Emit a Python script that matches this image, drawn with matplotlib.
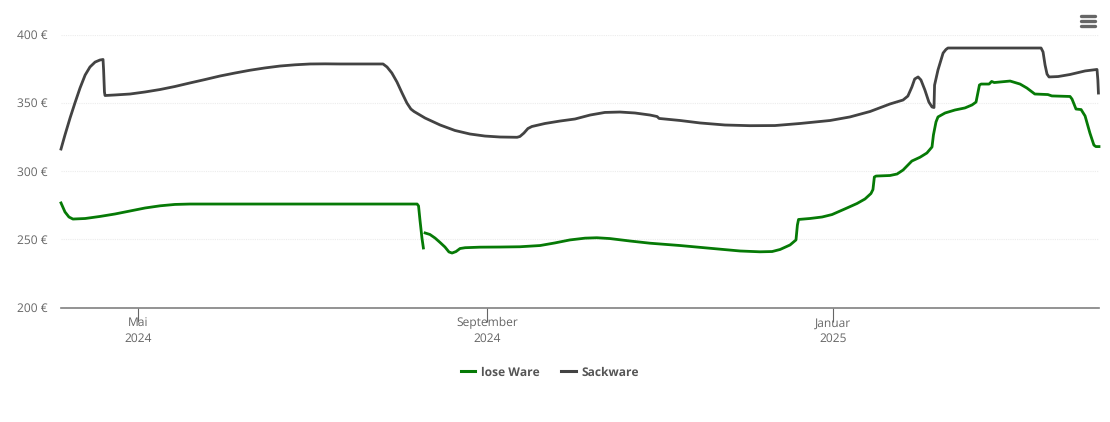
import matplotlib
matplotlib.use("Agg")
import matplotlib.pyplot as plt
from matplotlib.lines import Line2D
import pandas as pd

start = "2024-04-04"
lose_days_a = [0,1.4,2.8,4.2,8.5,13.7,19,24.3,29.6,34.9,40.1,45.4,125.4,125.9,126.4,127.1,127.6]
lose_vals_a = [276.6,270,266.3,264.8,265.2,266.7,268.5,270.7,272.9,274.5,275.5,275.8,275.8,274.4,264.1,250.9,243.6]
lose_days_b = [128.2,129.9,131.7,133.5,135.2,136.6,137.7,139.1,140.5,142.3,147.5,154.6,161.6,168.7,173.9,179.2,184.5,188.7,193.3,200.4,207.4,218,228.5,239.1,246.1,250.4,253.2,256.7,258.8,259.3,259.7,263.7,268,271.5,276,280.3,283.1,285.2,285.9,286.4,287,291.9,294.4,296.5,299.6,302.5,304.9,306.7,307.2,308.1,308.8,311.3,314.8,318.3,320.8,322.2,322.7,323.4,324,326.8,327.7,328.6,330.6,334.2,337.7,340.1,342.9,347.5,348.9,355.3,356,357.4,359.2,360.6,362.3,363.7,364.4,365.5]
lose_vals_b = [254.6,253.5,250.9,247.6,244.3,240.7,239.9,241,243.2,243.8,244.2,244.3,244.5,245.4,247.3,249.5,250.8,251.1,250.5,248.7,247.1,245.4,243.4,241.4,240.8,241,242.5,245.8,249.5,260.4,264.5,265.2,266.3,268.1,272.2,276.2,279.5,283.5,286.4,295.6,296.3,296.7,297.8,300.7,307.3,310.1,313.2,317.6,326.4,335.9,339.6,342.5,344.7,346.2,348.4,350.5,355.7,363,363.7,363.7,365.6,364.8,365.2,365.9,363.7,360.8,356.4,356,355,354.6,352.7,345.4,345,340.3,327.8,319,317.9,317.9]
sack_days = [0,1.4,3.2,4.9,6.7,8.5,10.2,12,13.7,14.8,15,15.3,15.5,19,24.3,29.6,34.9,40.1,45.4,50.7,56,61.3,66.5,71.8,77.1,82.4,87.7,93,98.2,113.4,114.8,116.5,118.3,120.1,121.8,123.2,124.3,128.2,133.5,138.7,144,149.3,154.6,160.6,161.6,163,164.4,165.8,170.4,175.7,181,186.3,191.5,196.8,202.1,207.4,209.9,210.6,218,225,233.8,242.6,251.4,260.2,270.8,277.8,284.9,291.9,296.5,298.2,299.6,300.6,301.8,302.8,304.2,305.6,306.7,307.4,307.6,308.8,310.6,311.6,312.3,345.1,345.8,346.5,347.2,347.9,351.1,355.3,360.6,364.8,365.1,365.3]
sack_vals = [316.1,326.4,338.9,349.8,360.8,370.3,376.2,379.8,381.3,381.7,374,357.9,355.3,355.7,356.4,357.9,359.7,361.9,364.5,367,369.6,371.8,373.8,375.5,376.9,377.8,378.4,378.5,378.4,378.4,376.2,371.8,365.2,357.1,349.8,345.4,343.6,338.8,333.7,329.7,327.1,325.6,324.9,324.7,325.3,327.8,331.1,332.6,334.8,336.6,338.1,341,342.9,343.2,342.5,341,339.9,338.5,337,335.2,333.7,333.2,333.3,334.8,337,339.6,343.6,349.1,352,354.9,361.5,367.4,368.9,366.7,359.3,350.5,346.9,346.5,362.9,374,386.4,389,390.1,390.1,387.2,377.7,371,368.9,369.2,370.7,373.3,374.4,366.7,357.1]
y_ticks = [200,250,300,350,400]
x_ticks = ["2024-05-01","2024-09-01","2025-01-01"]
x_labels = ["Mai\n2024","September\n2024","Januar\n2025"]
series_names = ["lose Ware","Sackware"]
GREEN = "#067a06"
DARK = "#434343"

def to_dates(days):
    return pd.Timestamp(start) + pd.to_timedelta(days, unit="D")

plt.rcParams['font.family'] = ['Open Sans','DejaVu Sans']
plt.rcParams['text.hinting'] = 'no_hinting'
plt.rcParams['text.hinting_factor'] = 1
W, H = 1110, 422
fig = plt.figure(figsize=(W/100, H/100), dpi=100)
ax = fig.add_axes([61/W, 1-307.5/H, (1099-61)/W, (307.5-34.5)/H])

ax.plot(to_dates(lose_days_a), lose_vals_a, color=GREEN, lw=2.0, solid_joinstyle="round", clip_on=False)
ax.plot(to_dates(lose_days_b), lose_vals_b, color=GREEN, lw=2.0, solid_joinstyle="round", clip_on=False)
ax.plot(to_dates(sack_days), sack_vals, color=DARK, lw=2.0, solid_joinstyle="round", clip_on=False)

ax.set_xlim(pd.Timestamp(start), to_dates(365.5))
ax.set_ylim(200, 400)
ax.set_yticks(y_ticks)
ax.set_yticklabels([f"{v} €" for v in y_ticks], fontsize=8.8, color="#666666")
ax.set_xticks([pd.Timestamp(d) for d in x_ticks])
ax.set_xticklabels(x_labels, fontsize=8.6, color="#666666", linespacing=1.36)
ax.tick_params(axis="y", length=0, pad=10)
ax.tick_params(axis="x", length=10, width=0.8, color="#666666", pad=-3)
ax.grid(axis="y", color="#ececec", lw=0.8, ls=(0, (1, 1)))
ax.set_axisbelow(True)
for s in ["top", "right", "left"]:
    ax.spines[s].set_visible(False)
ax.spines["bottom"].set_color("#808080")
ax.spines["bottom"].set_linewidth(1.2)

handles = [Line2D([], [], color=GREEN, lw=2.2), Line2D([], [], color=DARK, lw=2.2)]
leg = fig.legend(handles, series_names, loc="center", bbox_to_anchor=(550/W, 1-372.5/H), ncol=2,
                 frameon=False, handlelength=1.25, handletextpad=0.5, columnspacing=1.75,
                 prop={"size": 8.6, "weight": "bold", "family": ["Open Sans", "DejaVu Sans"]})
for t in leg.get_texts():
    t.set_color("#555555")

for py in [16, 21, 26]:
    fig.add_artist(Line2D([1081/W, 1095/W], [1-py/H, 1-py/H], color="#666666", lw=2.4,
                          solid_capstyle="round", transform=fig.transFigure))

fig.savefig("out.png", dpi=100)
